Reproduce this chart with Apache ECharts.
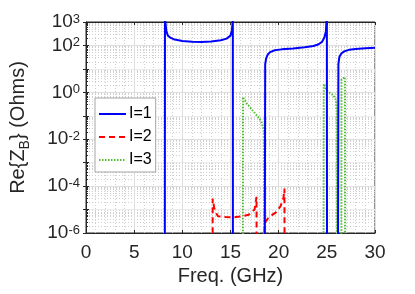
<!DOCTYPE html>
<html><head><meta charset="utf-8">
<script src="https://cdn.jsdelivr.net/npm/echarts@6/dist/echarts.min.js"></script>
<style>html,body{margin:0;padding:0;background:#fff}#c{width:415px;height:294px}</style>
</head><body><div id="c"></div>
<script>
// ---- data ----
const xTicks = [0, 5, 10, 15, 20, 25, 30];
const yTickExps = [3, 2, 0, -2, -4, -6];
const seriesNames = ['I=1', 'I=2', 'I=3'];

// I=1 (blue, solid). Values below 1e-6 / above 1e3 are off-scale (clipped).
const i1Freq = [8.18, 8.2, 8.24, 8.35, 8.5, 8.8, 9.2, 10, 11, 12, 13, 14, 14.6, 15.0, 15.15, 15.22, 15.24, 15.25,
  18.55, 18.6, 18.7, 18.85, 19.1, 19.6, 20.3, 21.5, 22.7, 23.6, 24.1, 24.5, 24.75, 24.9, 24.97, 25.0, 25.02,
  26.15, 26.2, 26.3, 26.5, 26.8, 27.3, 28, 29, 30];
const i1Val = [1e-9, 1e5, 1000, 398, 263, 209, 178, 155, 145, 141, 148, 166, 195, 263, 447, 1000, 1e5, 1e-9,
  1e-9, 15.8, 28, 40, 52, 62, 68, 74, 83, 95, 110, 141, 224, 398, 1259, 1e5, 1e-9,
  1e-9, 16, 32, 45, 56, 65, 71, 76, 79];

// I=2 (red, dashed)
const i2Freq = [13.14, 13.15, 13.3, 13.45, 13.7, 14.5, 15.3, 16.0, 16.9, 17.5, 17.7, 17.72,
  18.5, 18.52, 18.95, 19.75, 20.2, 20.5, 20.6, 20.62];
const i2Val = [1e-9, 2.95e-5, 1.26e-5, 7.8e-6, 5.2e-6, 4.8e-6, 4.7e-6, 5e-6, 6e-6, 1e-5, 3.5e-5, 1e-9,
  1e-9, 2.5e-6, 4.6e-6, 7.8e-6, 1.4e-5, 3.2e-5, 7.9e-5, 1e-9];

// I=3 (green, dotted)
const i3Freq = [16.28, 16.3, 16.7, 17.2, 17.6, 18.0, 18.25, 18.45, 18.5,
  24.65, 24.68, 25.0, 25.4, 25.7, 25.95, 26.02, 26.05,
  26.5, 26.52, 26.7, 26.88, 26.9];
const i3Val = [1e-9, 0.63, 0.33, 0.19, 0.12, 0.076, 0.05, 0.024, 1e-9,
  1e-9, 2.3, 1.2, 0.9, 0.74, 0.46, 0.16, 1e-9,
  1e-9, 3.5, 4.0, 4.5, 1e-9];

// ---- chart ----
const FONT = 'Liberation Sans';
const TXT = '#262626';
const pair = (fs, vs) => fs.map((f, k) => [f, vs[k]]);

const chart = echarts.init(document.getElementById('c'), null, {renderer: 'canvas'});

const yLabelFmt = v => {
  const e = Math.round(Math.log10(v));
  return yTickExps.indexOf(e) >= 0 ? '{b|10}{s|' + e + '}' : '';
};
const ySplitColors = [];
for (let e = -6; e <= 3; e++) ySplitColors.push(yTickExps.indexOf(e) >= 0 ? '#dedede' : '#ececec');

chart.setOption({
  animation: false,
  backgroundColor: '#fff',
  grid: {left: 85, right: 40, top: 22, bottom: 61, show: true, borderColor: TXT, borderWidth: 1, backgroundColor: '#fff'},
  legend: {
    orient: 'vertical', left: 95, top: 98,
    data: seriesNames,
    itemWidth: 27, itemHeight: 14, itemGap: 7,
    padding: [8, 4, 4, 3],
    itemStyle: {opacity: 0, borderWidth: 0},
    backgroundColor: '#fff', borderColor: '#a6a6a6', borderWidth: 1, borderRadius: 0,
    textStyle: {fontFamily: FONT, fontSize: 16, color: '#000', lineHeight: 16, padding: [0, 0, 0, -2]}
  },
  xAxis: [{
    type: 'value', min: xTicks[0], max: xTicks[xTicks.length - 1], interval: 5,
    name: 'Freq. (GHz)', nameLocation: 'middle', nameGap: 32,
    nameTextStyle: {fontFamily: FONT, fontSize: 20, color: TXT},
    axisLine: {show: true, lineStyle: {color: TXT}},
    axisTick: {show: true, inside: true, length: 3, lineStyle: {color: TXT}},
    axisLabel: {fontFamily: FONT, fontSize: 19, color: TXT, margin: 10},
    splitLine: {show: true, lineStyle: {color: '#dedede', width: 1}},
    minorTick: {show: false, splitNumber: 5},
    minorSplitLine: {show: true, lineStyle: {color: '#d0d0d0', type: [1, 2], width: 1}}
  }, {
    type: 'value', position: 'top', min: xTicks[0], max: xTicks[xTicks.length - 1], interval: 5,
    axisLine: {show: true, lineStyle: {color: TXT}},
    axisTick: {show: true, inside: true, length: 3, lineStyle: {color: TXT}},
    axisLabel: {show: false}, splitLine: {show: false}
  }],
  yAxis: [{
    type: 'log', logBase: 10, min: 1e-6, max: 1e3, splitNumber: 9,
    name: '{a|Re{Z}{sub|B}} (Ohms)', nameLocation: 'middle', nameGap: 58, nameRotate: 90,
    nameTextStyle: {fontFamily: FONT, fontSize: 20, color: TXT, lineHeight: 20,
      rich: {a: {fontFamily: FONT, fontSize: 20, color: TXT, lineHeight: 20, verticalAlign: 'top'},
             sub: {fontFamily: FONT, fontSize: 14, color: TXT, lineHeight: 14, padding: [10, 0, 0, 0], verticalAlign: 'top'}}},
    axisLine: {show: true, lineStyle: {color: TXT}},
    axisTick: {show: true, inside: true, length: 3, lineStyle: {color: TXT}},
    axisLabel: {fontFamily: FONT, color: TXT, margin: 6, formatter: yLabelFmt,
      rich: {b: {fontFamily: FONT, fontSize: 19, color: TXT, lineHeight: 19, padding: [4, 0, 0, 0], verticalAlign: 'bottom'},
             s: {fontFamily: FONT, fontSize: 13, color: TXT, lineHeight: 13, verticalAlign: 'top'}}},
    splitLine: {show: true, lineStyle: {color: ySplitColors, width: 1}},
    minorTick: {show: true, splitNumber: 9, length: 2, lineStyle: {color: TXT}},
    minorSplitLine: {show: true, lineStyle: {color: '#d0d0d0', type: [1, 2], width: 1}}
  }, {
    type: 'log', logBase: 10, min: 1e-6, max: 1e3, splitNumber: 9, position: 'right',
    axisLine: {show: true, lineStyle: {color: TXT}},
    axisTick: {show: true, inside: true, length: 3, lineStyle: {color: TXT}},
    axisLabel: {show: false}, splitLine: {show: false}
  }],
  series: [
    {name: seriesNames[0], type: 'line', data: pair(i1Freq, i1Val), symbol: 'none', clip: true,
      color: '#0000ff', lineStyle: {color: '#0000ff', width: 2}, z: 3},
    {name: seriesNames[1], type: 'line', data: pair(i2Freq, i2Val), symbol: 'none', clip: true,
      color: '#ff0000', lineStyle: {color: '#ff0000', width: 2, type: [6, 4]}, z: 2},
    {name: seriesNames[2], type: 'line', data: pair(i3Freq, i3Val), symbol: 'none', clip: true,
      color: '#4fbf2f', lineStyle: {color: '#4fbf2f', width: 2, type: [1.5, 1.5]}, z: 2}
  ]
});
</script></body></html>
